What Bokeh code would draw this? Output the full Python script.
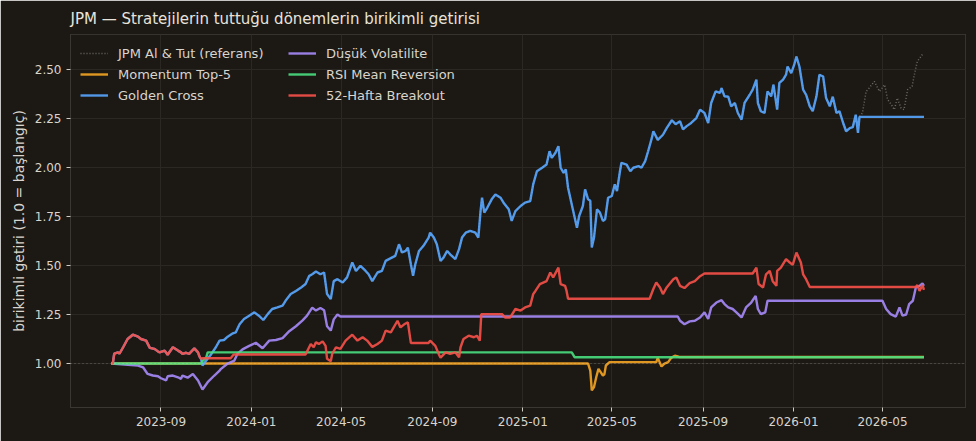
import pandas as pd
from bokeh.plotting import figure
from bokeh.models import (Range1d, Legend, LegendItem, Span, DatetimeTickFormatter,
                          MonthsTicker, SingleIntervalTicker, NumeralTickFormatter)
from bokeh.embed import file_html
from bokeh.resources import INLINE

START = "2023-06-26"

TITLE = "JPM — Stratejilerin tuttuğu dönemlerin birikimli getirisi"
YLABEL = "birikimli getiri (1.0 = başlangıç)"
NAMES = ["JPM Al & Tut (referans)", "Momentum Top-5", "Golden Cross",
         "Düşük Volatilite", "RSI Mean Reversion", "52-Hafta Breakout"]

# ---- data (days since START, cumulative return) ----
hold_days = [0, 2, 4, 9, 11, 16, 22, 29, 36, 40, 47, 52, 58, 63, 65, 72, 76, 83, 90, 94, 96, 101, 105, 112, 117, 119, 121,
             123, 128, 135, 141, 146, 152, 157, 164, 168, 173, 179, 186, 193, 199, 205, 211, 217, 224, 231, 235, 242, 249,
             256, 262, 267, 271, 276, 282, 287, 291, 296, 300, 305, 312, 318, 325, 330, 336, 343, 347, 352, 359, 365, 370,
             377, 383, 388, 392, 397, 400, 404, 407, 410, 415, 421, 428, 430, 435, 439, 444, 448, 453, 457, 464, 469, 473,
             478, 484, 491, 495, 498, 500, 503, 507, 513, 518, 525, 529, 536, 540, 545, 552, 558, 565, 569, 574, 581, 587,
             591, 594, 599, 603, 606, 610, 613, 616, 621, 625, 628, 631, 636, 639, 643, 646, 648, 651, 655, 659, 663, 666,
             670, 675, 679, 682, 686, 688, 695, 700, 704, 711, 715, 720, 724, 729, 731, 737, 744, 749, 756, 761, 767, 771,
             776, 782, 789, 794, 800, 805, 809, 815, 821, 823, 827, 832, 836, 841, 845, 850, 854, 861, 865, 870, 872, 876,
             881, 885, 890, 893, 898, 901, 906, 910, 912, 917, 921, 924, 928, 933, 937, 942, 946, 951, 955, 960, 964, 969,
             973, 978, 982, 987, 991, 996, 1000, 1004, 1007, 1009,
             1013, 1018, 1022, 1029, 1036, 1043, 1047, 1052, 1056, 1060, 1065, 1069, 1074, 1080, 1083, 1087, 1092, 1095]
hold_vals = [1.0, 1.0, 1.05, 1.057, 1.05, 1.083, 1.125, 1.147, 1.137, 1.125, 1.117, 1.08, 1.075, 1.062, 1.057, 1.066,
             1.045, 1.083, 1.066, 1.057, 1.049, 1.055, 1.049, 1.077, 1.057, 1.035, 1.024,
             0.99, 1.015, 1.049, 1.083, 1.117, 1.12, 1.137, 1.154, 1.159, 1.2, 1.227, 1.244, 1.261, 1.244, 1.222, 1.252,
             1.278, 1.286, 1.295, 1.32, 1.354, 1.37, 1.388, 1.405, 1.447, 1.455, 1.469, 1.455, 1.464, 1.354, 1.329, 1.42,
             1.43, 1.413, 1.439, 1.515, 1.472, 1.498, 1.472, 1.455, 1.42, 1.464, 1.472, 1.523, 1.537, 1.549, 1.608, 1.566,
             1.574, 1.591, 1.506, 1.447, 1.506, 1.574, 1.6, 1.642, 1.667, 1.642, 1.608, 1.523, 1.54, 1.574, 1.557, 1.532,
             1.583, 1.642, 1.667, 1.676, 1.667, 1.642, 1.777, 1.845, 1.769, 1.794, 1.837, 1.862, 1.845, 1.82, 1.786,
             1.727, 1.777, 1.803, 1.82, 1.828, 1.913, 1.98, 1.998, 2.014, 2.082, 2.048, 2.074, 2.108, 1.998, 1.972, 1.99,
             1.896, 1.811, 1.743, 1.692, 1.752, 1.803, 1.888, 1.837, 1.83, 1.591, 1.642, 1.786, 1.769, 1.727, 1.735,
             1.845, 1.854, 1.913, 1.879, 1.98, 2.023, 2.014, 1.98, 1.998, 2.006, 1.998, 2.032, 2.082, 2.15, 2.184, 2.14,
             2.166, 2.2, 2.24, 2.22, 2.235, 2.193, 2.21, 2.226, 2.251, 2.294, 2.277, 2.226, 2.328, 2.387, 2.379, 2.404,
             2.362, 2.36, 2.311, 2.328, 2.277, 2.243, 2.328, 2.37, 2.396, 2.447, 2.328, 2.286, 2.277, 2.387, 2.362, 2.421,
             2.294, 2.43, 2.447, 2.472, 2.514, 2.48, 2.523, 2.565, 2.514, 2.396, 2.37, 2.311, 2.286, 2.362, 2.472, 2.463,
             2.353, 2.311, 2.36, 2.277, 2.286, 2.226, 2.184, 2.2, 2.205, 2.268, 2.176, 2.257,
             2.277, 2.387, 2.404, 2.438, 2.387, 2.421, 2.345, 2.32, 2.294, 2.353, 2.303, 2.294, 2.396, 2.413, 2.472,
             2.54, 2.565, 2.582]

# Golden Cross: holds JPM until its exit on day 1009, then stays flat
GC_EXIT = 1009
gc_days = [d for d in hold_days if d <= GC_EXIT] + [1096]
gc_vals = hold_vals[:len(gc_days) - 1] + [2.257]

mom_days = [0, 643, 646, 648, 651, 654, 657, 660, 663, 665, 667, 672, 735, 737, 742, 746, 751, 755, 760, 764, 767, 1096]
mom_vals = [1.0, 1.0, 0.964, 0.863, 0.88, 0.93, 0.973, 0.956, 0.939, 0.945, 0.99, 1.007, 1.007, 1.029, 0.985, 1.0,
            1.007, 1.029, 1.04, 1.036, 1.033, 1.033]

vol_days = [0, 36, 43, 49, 56, 63, 67, 74, 76, 83, 90, 94, 96, 103, 110, 117, 123, 130, 139, 146, 148, 157, 166, 170,
            177, 186, 195, 204, 213, 222, 231, 240, 249, 258, 264, 271, 276, 282, 287, 291, 296, 300, 305, 309, 764,
            767, 773, 780, 787, 794, 800, 805, 809, 816, 823, 827, 832, 838, 843, 850, 856, 863, 869, 872, 876, 882,
            885, 1040, 1045, 1051, 1058, 1063, 1067, 1072, 1076, 1081, 1085, 1090, 1094, 1096]
vol_vals = [1.0, 0.99, 0.98, 0.947, 0.939, 0.935, 0.925, 0.914, 0.935, 0.939, 0.93, 0.922, 0.939, 0.928, 0.947, 0.914,
            0.868, 0.905, 0.939, 0.964, 0.973, 1.0, 1.015, 1.049, 1.072, 1.09, 1.106, 1.078, 1.117, 1.12, 1.13, 1.165,
            1.19, 1.22, 1.244, 1.285, 1.27, 1.283, 1.272, 1.19, 1.168, 1.225, 1.25, 1.24, 1.24, 1.218, 1.2, 1.215,
            1.218, 1.235, 1.261, 1.227, 1.286, 1.311, 1.323, 1.303, 1.286, 1.278, 1.261, 1.235, 1.286, 1.311, 1.345,
            1.278, 1.252, 1.261, 1.32, 1.32, 1.278, 1.252, 1.239, 1.286, 1.244, 1.25, 1.303, 1.32, 1.388, 1.396,
            1.408, 1.396]

rsi_days = [0, 121, 123, 128, 130, 621, 625, 1096]
rsi_vals = [1.0, 1.0, 1.012, 1.03, 1.057, 1.057, 1.032, 1.032]

brk_days = [0, 2, 4, 9, 11, 16, 22, 29, 36, 40, 47, 52, 58, 63, 65, 72, 76, 83, 90, 94, 96, 101, 105, 112, 117, 119,
            121, 123, 161, 165, 262, 269, 273, 276, 280, 285, 289, 291, 296, 298, 303, 309, 316, 325, 332,
            339, 345, 352, 359, 365, 370, 377, 386, 390, 395, 400, 404, 428, 430, 437, 442, 444, 451,
            457, 464, 469, 471, 475, 482, 489, 493, 497, 499, 527, 531, 538, 545, 552, 558, 565, 569,
            572, 578, 587, 592, 596, 603, 606, 612, 614, 616, 726, 731, 735, 740, 744, 749, 758, 762,
            767, 773, 780, 787, 794, 800, 865, 870, 873, 879, 883, 888, 892, 897, 898, 903, 910, 915,
            919, 924, 928, 930, 933, 937, 942, 1085, 1087, 1090, 1094, 1096]
brk_vals = [1.0, 1.0, 1.05, 1.057, 1.05, 1.083, 1.125, 1.147, 1.137, 1.125, 1.117, 1.08, 1.075, 1.062, 1.057, 1.066,
            1.045, 1.083, 1.066, 1.057, 1.049, 1.055, 1.049, 1.077, 1.057, 1.035,
            1.024, 1.027, 1.027, 1.046, 1.046, 1.1, 1.083, 1.108, 1.1, 1.113, 1.09, 1.024, 1.012, 1.05,
            1.083, 1.075, 1.117, 1.147, 1.117, 1.134, 1.117, 1.085, 1.1, 1.117, 1.168, 1.159, 1.218,
            1.184, 1.2, 1.21, 1.105, 1.105, 1.117, 1.09, 1.045, 1.03, 1.057, 1.049, 1.057, 1.032,
            1.083, 1.125, 1.142, 1.134, 1.142, 1.117, 1.252, 1.252, 1.235, 1.235, 1.278, 1.27, 1.286,
            1.295, 1.354, 1.37, 1.405, 1.42, 1.464, 1.439, 1.489, 1.405, 1.396, 1.37, 1.33, 1.33,
            1.38, 1.413, 1.388, 1.354, 1.388, 1.43, 1.439, 1.396, 1.385, 1.41, 1.42, 1.445, 1.459,
            1.459, 1.489, 1.405, 1.388, 1.455, 1.472, 1.42, 1.396, 1.472, 1.489, 1.532, 1.515, 1.503,
            1.566, 1.532, 1.515, 1.455, 1.43, 1.39, 1.39, 1.40, 1.37, 1.40, 1.375]

for a, b in [(hold_days, hold_vals), (gc_days, gc_vals), (mom_days, mom_vals), (vol_days, vol_vals),
             (rsi_days, rsi_vals), (brk_days, brk_vals)]:
    assert len(a) == len(b), (len(a), len(b))

COLORS = ["#77716b", "#f5a524", "#58a6ff", "#a78bfa", "#4ade80", "#f85149"]


def to_dates(days):
    return pd.Timestamp(START) + pd.to_timedelta(days, unit="D")


BG = "#1c1915"
TXT = "#d9d4cc"

p = figure(width=976, height=441, x_axis_type="datetime", output_backend="svg", toolbar_location=None,
           background_fill_color=BG, border_fill_color=BG,
           x_range=Range1d(pd.Timestamp("2023-05-02"), pd.Timestamp("2026-08-21")),
           y_range=Range1d(0.776, 2.677),
           min_border_left=70, min_border_right=11, min_border_top=33, min_border_bottom=34)

p.title.text = TITLE
p.title.text_color = "#e8e3da"
p.title.text_font = "DejaVu Sans"
p.title.text_font_size = "15px"
p.title.text_font_style = "normal"
p.title.align = "left"
p.title.standoff = 14

p.outline_line_color = "#36322d"
p.grid.grid_line_color = "#2b2824"
p.grid.grid_line_width = 1

for ax in (p.xaxis, p.yaxis):
    ax.axis_line_color = "#3a3631"
    ax.major_tick_line_color = "#cfcac2"
    ax.major_tick_out = 4
    ax.major_tick_in = 0
    ax.minor_tick_line_color = None
    ax.major_label_text_color = TXT
    ax.major_label_text_font = "DejaVu Sans"
    ax.major_label_text_font_size = "12px"

p.xaxis.ticker = MonthsTicker(months=[0, 4, 8])
p.xaxis.formatter = DatetimeTickFormatter(months="%Y-%m", days="%Y-%m", years="%Y-%m")
p.yaxis.ticker = SingleIntervalTicker(interval=0.25)
p.yaxis.formatter = NumeralTickFormatter(format="0.00")
p.yaxis.axis_label = YLABEL
p.yaxis.axis_label_text_color = TXT
p.yaxis.axis_label_text_font = "DejaVu Sans"
p.yaxis.axis_label_text_font_size = "14px"
p.yaxis.axis_label_text_font_style = "normal"

series = [(hold_days, hold_vals), (mom_days, mom_vals), (gc_days, gc_vals),
          (vol_days, vol_vals), (rsi_days, rsi_vals), (brk_days, brk_vals)]
items = []
for i, (d, v) in enumerate(series):
    if i == 0:
        r = p.line(to_dates(d), v, line_color=COLORS[0], line_width=1.5, line_dash="1 2", line_alpha=0.9)
    else:
        r = p.line(to_dates(d), v, line_color=COLORS[i], line_width=2.4, line_alpha=0.9)
    items.append(LegendItem(label=NAMES[i], renderers=[r]))

p.add_layout(Span(location=1.0, dimension="width", line_color="#e6e0d6", line_alpha=0.35,
                  line_width=1, line_dash="1 3"))

legend = Legend(items=items, location="top_left", orientation="vertical", nrows=3,
                background_fill_alpha=0, border_line_alpha=0,
                label_text_color=TXT, label_text_font="DejaVu Sans", label_text_font_size="13px",
                glyph_width=28, glyph_height=18, label_height=18, label_width=167,
                label_standoff=10, spacing=3, padding=6, margin=4)
p.add_layout(legend)

open("out.html", "w").write(file_html(p, INLINE))
